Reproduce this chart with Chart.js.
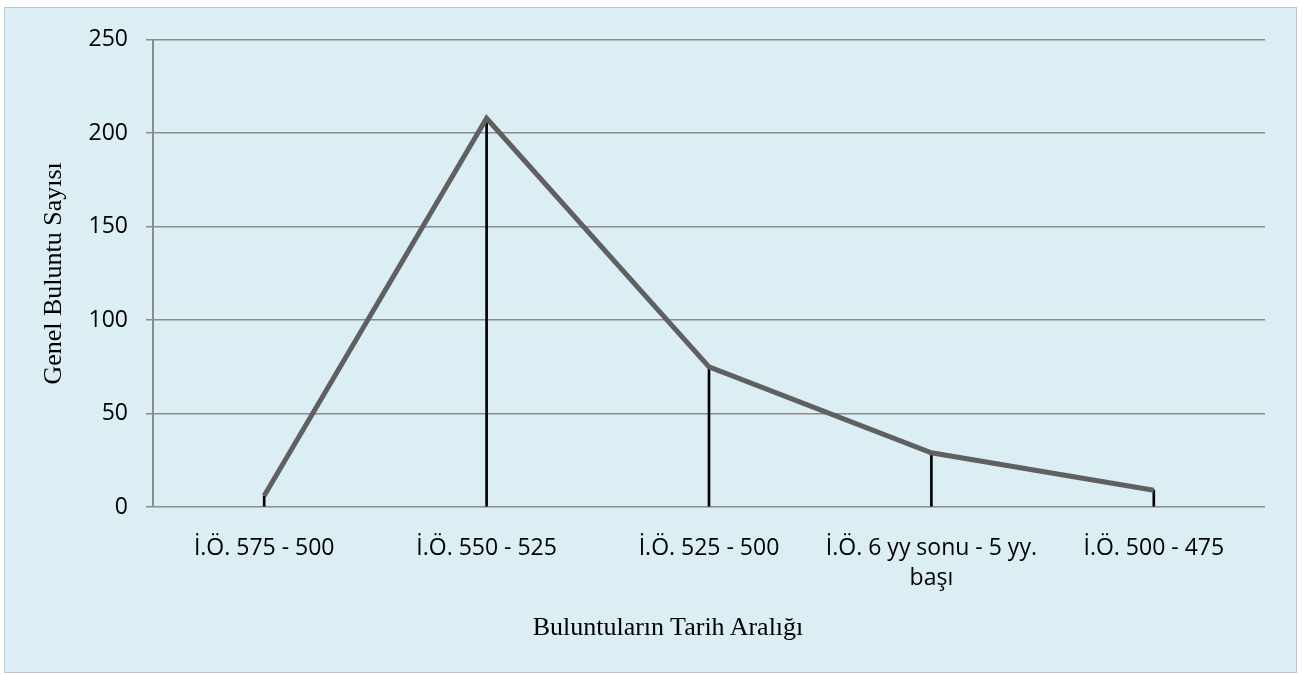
<!DOCTYPE html>
<html>
<head>
<meta charset="utf-8">
<script src="https://cdn.jsdelivr.net/npm/chart.js@4/dist/chart.umd.min.js"></script>
<style>
  html, body { margin: 0; padding: 0; background: #fff; }
  #box {
    position: absolute; left: 4px; top: 7px;
    width: 1291px; height: 664px;
    background: #dbeef4;
    border: 1px solid #b3c8e4;
  }
  #box canvas { position: absolute; left: 0; top: 0; }
  #xtitle {
    position: absolute; left: 0; width: 1326px; top: 604px;
    text-align: center;
    font-family: "Liberation Serif", serif; font-size: 26px; color: #000;
  }
</style>
</head>
<body>
<div id="box">
  <canvas id="myChart" width="1291" height="664"></canvas>
  <div id="xtitle">Buluntuların Tarih Aralığı</div>
</div>
<script>
const categories = [
  'İ.Ö. 575 - 500',
  'İ.Ö. 550 - 525',
  'İ.Ö. 525 - 500',
  ['İ.Ö. 6 yy sonu - 5 yy.', 'başı'],
  'İ.Ö. 500 - 475',
];
const findCounts = [6, 208, 75, 29, 9];
const yTicks = [0, 50, 100, 150, 200, 250];

const ctx = document.getElementById('myChart');
const myChart = new Chart(ctx, {
  data: {
    labels: categories,
    datasets: [
      {
        type: 'line',
        data: findCounts,
        borderColor: '#606060',
        borderWidth: 5,
        pointRadius: 0,
        tension: 0,
        order: 0,
      },
      {
        // drop lines from each point to the axis
        type: 'bar',
        data: findCounts,
        backgroundColor: '#000000',
        barThickness: 2,
        order: 1,
      },
    ],
  },
  options: {
    responsive: false,
    animation: false,
    layout: {
      padding: { top: 29, right: 31, left: 0, bottom: 0 },
    },
    plugins: {
      legend: { display: false },
      tooltip: { enabled: false },
    },
    scales: {
      x: {
        offset: true,
        grid: { display: false, drawTicks: false },
        border: { display: false },
        ticks: {
          color: '#000',
          padding: 27,
          maxRotation: 0,
          autoSkip: false,
          font: { family: 'Open Sans', size: 23, lineHeight: 1.3 },
        },
        afterFit: (scale) => { scale.height = 165; },
      },
      y: {
        min: yTicks[0],
        max: yTicks[yTicks.length - 1],
        afterBuildTicks: (scale) => {
          scale.ticks = yTicks.map((v) => ({ value: v }));
        },
        grid: {
          color: '#8c8c8c',
          lineWidth: 1.5,
          tickLength: 7,
          tickColor: '#8c8c8c',
        },
        border: { color: '#8c8c8c', width: 2 },
        ticks: {
          color: '#000',
          padding: 18,
          font: { family: 'Open Sans', size: 23 },
        },
        title: {
          display: true,
          text: 'Genel Buluntu Sayısı',
          color: '#000',
          padding: { top: 34, bottom: 0 },
          font: { family: 'Liberation Serif', size: 26 },
        },
        afterFit: (scale) => { scale.width = 148; },
      },
    },
  },
});
</script>
</body>
</html>
